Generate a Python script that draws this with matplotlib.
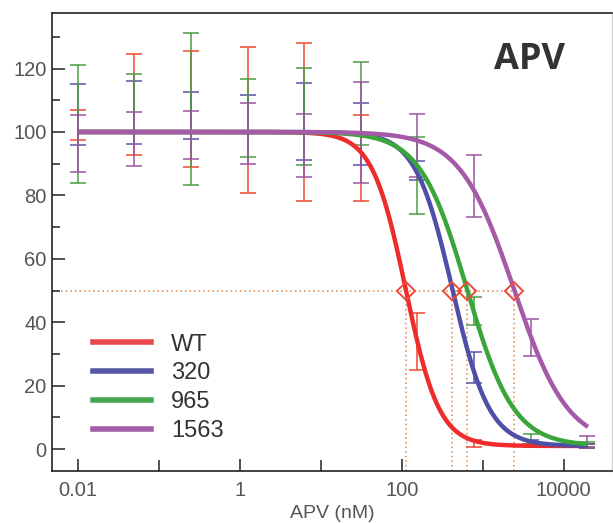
import numpy as np
import matplotlib.pyplot as plt
from matplotlib.lines import Line2D
from matplotlib.ticker import FixedLocator, NullFormatter, FixedFormatter

plt.rcParams['font.family'] = ['Liberation Sans', 'DejaVu Sans']

# concentrations (nM)
conc = [0.01, 0.05, 0.25, 1.25, 6.25, 31.25, 156.25, 781.25, 3906.25, 19531.25]

labels = ['WT', '320', '965', '1563']
line_colors = ['#ee2c2c', '#4e4fa6', '#3aa63a', '#a55aa8']
bar_colors = ['#ef4a2e', '#5a55a8', '#4a9e44', '#9a55a0']
leg_colors = ['#e8484a', '#5656a2', '#44a84e', '#a35ca6']

# fitted curve parameters
ic50 = [112, 422, 640, 2430]
hill = [2.1, 1.9, 1.5, 1.3]
top = 100
bottom = 1

# measured means and errors
wt_mean = [102.2, 108.6, 107.2, 103.8, 103.1, 91.8, 34.0, 1.8, 1.2, 1.0]
wt_err = [4.7, 15.9, 18.2, 22.9, 25.0, 13.6, 8.9, 1.1, 0.5, 0.5]
m320_mean = [105.5, 106.2, 105.2, 105.8, 103.3, 99.3, 88.0, 25.8, 2.0, 1.0]
m320_err = [9.6, 10.0, 7.5, 6.0, 12.1, 9.7, 3.0, 4.9, 1.0, 0.5]
m965_mean = [102.6, 109.0, 107.2, 104.4, 104.8, 109.0, 86.2, 43.5, 3.2, 1.5]
m965_err = [18.6, 9.3, 23.9, 12.2, 15.3, 13.1, 12.1, 4.5, 1.6, 0.8]
m1563_mean = [96.4, 97.8, 99.0, 99.5, 95.8, 99.9, 95.8, 82.9, 35.2, 2.4]
m1563_err = [9.0, 8.6, 7.5, 9.7, 9.9, 16.0, 9.9, 9.8, 5.9, 1.6]

means = [wt_mean, m320_mean, m965_mean, m1563_mean]
errs = [wt_err, m320_err, m965_err, m1563_err]


def four_pl(x, ic, h):
    return bottom + (top - bottom) / (1 + (x / ic) ** h)


fig = plt.figure(figsize=(6.13, 5.23), dpi=100)
ax = fig.add_axes([0.0848, 0.0994, 0.913, 0.8757])
ax.set_xscale('log')
ax.set_xlim(0.00479, 39200)
ax.set_ylim(-6.9, 137.5)

# error bars (behind the curves)
for i in range(4):
    ax.errorbar(conc, means[i], yerr=errs[i], fmt='none', ecolor=bar_colors[i],
                elinewidth=1.1, capsize=5.5, capthick=1.1, zorder=2)

# IC50 guide lines
dot_col = '#d9874a'
ax.plot([0.00479, ic50[3]], [50, 50], linestyle=(0, (1, 2)), color=dot_col, lw=1.1, zorder=1)
for ic in ic50:
    ax.plot([ic, ic], [-6.9, 50], linestyle=(0, (1, 2)), color=dot_col, lw=1.1, zorder=1)

# fitted curves
xs = np.logspace(np.log10(0.01), np.log10(20000), 400)
for i in range(4):
    ax.plot(xs, four_pl(xs, ic50[i], hill[i]), color=line_colors[i], lw=3.2,
            solid_capstyle='butt', zorder=3)

# IC50 markers
ax.plot(ic50, [50] * 4, linestyle='none', marker='D', markersize=9.5,
        markerfacecolor='none', markeredgecolor='#ec4a3a', markeredgewidth=1.4, zorder=4)

# axes styling
for s in ['left', 'bottom', 'top']:
    ax.spines[s].set_color('#222222')
    ax.spines[s].set_linewidth(1.2)
ax.spines['right'].set_color('#cfcfcf')
ax.spines['right'].set_linewidth(1.0)

ax.xaxis.set_major_locator(FixedLocator([0.01, 1, 100, 10000]))
ax.xaxis.set_major_formatter(FixedFormatter(['0.01', '1', '100', '10000']))
ax.xaxis.set_minor_locator(FixedLocator([0.1, 10, 1000]))
ax.xaxis.set_minor_formatter(NullFormatter())
ax.yaxis.set_major_locator(FixedLocator([0, 20, 40, 60, 80, 100, 120]))
ax.yaxis.set_minor_locator(FixedLocator([10, 30, 50, 70, 90, 110, 130]))

ax.tick_params(axis='both', which='both', direction='in', colors='#222222',
               labelcolor='#555555', labelsize=14.5, width=1.1)
ax.tick_params(axis='x', which='major', length=9, pad=7)
ax.tick_params(axis='x', which='minor', length=8)
ax.tick_params(axis='y', which='major', length=9, pad=4)
ax.tick_params(axis='y', which='minor', length=6)

ax.set_xlabel('APV (nM)', fontsize=14, color='#555555', labelpad=4)

ax.text(0.853, 0.897, 'APV', transform=ax.transAxes, fontsize=26, fontweight='bold',
        family='Open Sans', color='#333333', ha='center', va='center')

handles = [Line2D([0], [0], color=c, lw=4) for c in leg_colors]
leg = ax.legend(handles, labels, loc='upper left', bbox_to_anchor=(0.073, 0.30),
                frameon=False, fontsize=17, handlelength=2.45, handletextpad=0.85,
                labelspacing=0.285, borderpad=0, borderaxespad=0)
for t in leg.get_texts():
    t.set_color('#333333')

fig.savefig('out.png', dpi=100)
